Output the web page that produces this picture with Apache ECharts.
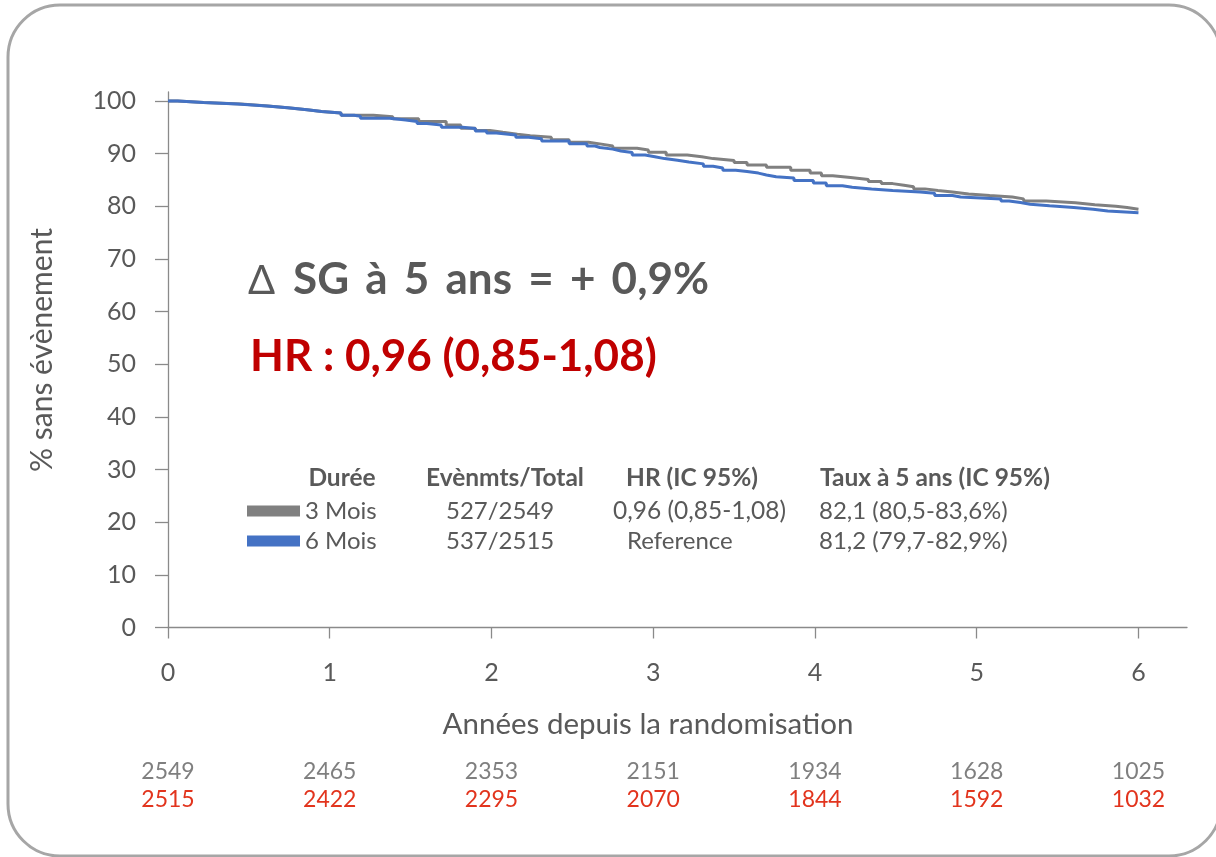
<!DOCTYPE html>
<html>
<head>
<meta charset="utf-8">
<script src="https://cdn.jsdelivr.net/npm/echarts@6/dist/echarts.min.js"></script>
<style>html,body{margin:0;padding:0;background:#fff;}#c{width:1216px;height:857px;}</style>
</head>
<body>
<div id="c"></div>
<script>
// Kaplan-Meier step points [years, % event-free]
var mois3 = [[0,100],[0.06,99.7],[0.22,99.4],[0.45,99.05],[0.62,98.7],[0.74,98.35],[0.86,98.0],[0.95,97.7],[1.07,97.3],[1.27,97.0],[1.39,96.6],[1.55,96.1],[1.72,95.45],[1.81,94.8],[1.90,94.4],[1.99,94.05],[2.07,93.7],[2.16,93.4],[2.24,93.1],[2.37,92.65],[2.48,92.15],[2.60,91.8],[2.68,91.45],[2.75,91.0],[2.90,90.7],[2.97,90.25],[3.08,89.75],[3.21,89.4],[3.30,89.05],[3.37,88.7],[3.50,88.3],[3.58,87.85],[3.70,87.4],[3.85,86.85],[3.97,86.3],[4.04,85.8],[4.11,85.45],[4.22,85.1],[4.33,84.7],[4.41,84.3],[4.48,84.0],[4.55,83.7],[4.61,83.3],[4.68,83.0],[4.76,82.7],[4.85,82.35],[4.95,82.05],[5.08,81.75],[5.22,81.4],[5.29,81.0],[5.43,80.65],[5.61,80.3],[5.73,80.0],[5.86,79.75],[5.93,79.45],[6.0,79.45]];
var mois6 = [[0,100],[0.06,99.7],[0.22,99.4],[0.43,99.05],[0.61,98.7],[0.74,98.35],[0.86,98.0],[0.95,97.7],[1.07,97.3],[1.15,97.1],[1.19,96.7],[1.37,96.4],[1.47,96.1],[1.54,95.7],[1.60,95.45],[1.69,95.0],[1.82,94.75],[1.90,94.3],[1.97,93.9],[2.03,93.55],[2.15,93.1],[2.23,92.8],[2.31,92.4],[2.48,91.85],[2.59,91.45],[2.64,91.15],[2.67,90.85],[2.75,90.5],[2.80,90.2],[2.87,89.75],[2.95,89.4],[3.01,89.05],[3.07,88.75],[3.15,88.4],[3.22,88.05],[3.31,87.6],[3.37,87.25],[3.43,86.85],[3.51,86.6],[3.58,86.3],[3.65,85.95],[3.70,85.6],[3.76,85.35],[3.87,84.9],[3.99,84.4],[4.07,83.9],[4.17,83.6],[4.23,83.3],[4.35,83.0],[4.48,82.7],[4.65,82.45],[4.74,82.05],[4.85,81.75],[4.90,81.4],[5.15,81.0],[5.20,80.7],[5.27,80.4],[5.33,80.1],[5.45,79.75],[5.60,79.45],[5.72,79.1],[5.81,78.75],[6.0,78.75]];
var xTicks = [0,1,2,3,4,5,6];
var yTicks = [0,10,20,30,40,50,60,70,80,90,100];
var atRisk3 = [2549,2465,2353,2151,1934,1628,1025];
var atRisk6 = [2515,2422,2295,2070,1844,1592,1032];
var seriesNames = ['3 Mois','6 Mois'];
var tableHeaders = ['Durée','Evènmts/Total','HR (IC 95%)','Taux à 5 ans (IC 95%)'];
var evTotal = ['527/2549','537/2515'];
var hrText = ['0,96 (0,85-1,08)','Reference'];
var taux5 = ['82,1 (80,5-83,6%)','81,2 (79,7-82,9%)'];
var deltaSym = '\u0394';
var deltaText = 'SG \u2009à \u20095 \u2009ans \u2009= \u2009+ \u20090,9%';
var hrBig = 'HR : 0,96 (0,85-1,08)';

var FONT = 'Lato';
var axisColor = '#8a8a8a';
var txt = '#595959';

var chart = echarts.init(document.getElementById('c'), null, {renderer:'canvas'});

function t(x, y, s, size, color, weight, align) {
  return {type:'text', x:x, y:y, style:{text:s, fontFamily:FONT, fontSize:size, fill:color, fontWeight:weight||'normal', align:align||'left', verticalAlign:'middle'}};
}

var graphics = [
  {type:'rect', shape:{x:8, y:5, width:1213, height:851, r:52}, style:{fill:'none', stroke:'#a6a6a6', lineWidth:3}, z:0},
  t(248, 281, deltaSym, 40, txt, 'normal'),
  t(293, 280, deltaText, 44, txt, 'bold'),
  t(250, 357, hrBig, 44, '#c00000', 'bold'),
  t(342, 478, tableHeaders[0], 24.5, txt, 'bold', 'center'),
  t(426, 478, tableHeaders[1], 24.5, txt, 'bold'),
  t(626, 478, tableHeaders[2], 24.5, txt, 'bold'),
  t(820, 478, tableHeaders[3], 24.5, txt, 'bold'),
  t(446, 511, evTotal[0], 24, txt),
  t(446, 541, evTotal[1], 24, txt),
  t(613, 511, hrText[0], 24.5, txt),
  t(627, 541, hrText[1], 24, txt),
  t(819, 511, taux5[0], 24, txt),
  t(819, 541, taux5[1], 24, txt),
  t(648, 724, 'Années depuis la randomisation', 29.5, txt, 'normal', 'center'),
  {type:'text', x:42, y:350, rotation:Math.PI/2, style:{text:'% sans évènement', fontFamily:FONT, fontSize:30, fill:txt, align:'center', verticalAlign:'middle'}}
];

var riskAxis = function(arr, color, offset) {
  return {type:'value', min:0, max:6.3, position:'bottom', offset:offset,
    axisLine:{show:false}, axisTick:{show:false}, splitLine:{show:false},
    axisLabel:{customValues:xTicks, margin:8, color:color, fontFamily:FONT, fontSize:23,
      formatter:function(v){ return String(arr[Math.round(v)]); }}};
};

chart.setOption({
  animation:false,
  backgroundColor:'#ffffff',
  grid:{left:168, right:29, top:92, bottom:229.5, containLabel:false},
  legend:{show:true, orient:'vertical', left:247, top:499, padding:0, icon:'rect', itemWidth:53, itemHeight:11, itemGap:6,
    data:seriesNames, textStyle:{fontFamily:FONT, fontSize:24, color:txt}},
  xAxis:[
    {type:'value', min:0, max:6.3, position:'bottom',
      axisLine:{lineStyle:{color:axisColor, width:1.3}},
      axisTick:{customValues:xTicks, length:11, lineStyle:{color:axisColor, width:1.3}},
      axisLabel:{customValues:xTicks, margin:33, color:txt, fontFamily:FONT, fontSize:25},
      splitLine:{show:false}},
    riskAxis(atRisk3, '#7f7f7f', 125),
    riskAxis(atRisk6, '#e2341d', 153)
  ],
  yAxis:{type:'value', min:0, max:101.7,
    axisLine:{show:true, lineStyle:{color:axisColor, width:1.3}},
    axisTick:{show:true, customValues:yTicks, length:13, lineStyle:{color:axisColor, width:1.3}},
    axisLabel:{customValues:yTicks, margin:32, color:txt, fontFamily:FONT, fontSize:25},
    splitLine:{show:false}},
  series:[
    {name:seriesNames[0], type:'line', step:'end', data:mois3, showSymbol:false, symbol:'none',
      itemStyle:{color:'#808080'}, lineStyle:{color:'#808080', width:3}, z:2},
    {name:seriesNames[1], type:'line', step:'end', data:mois6, showSymbol:false, symbol:'none',
      itemStyle:{color:'#4472c4'}, lineStyle:{color:'#4472c4', width:3}, z:3}
  ],
  graphic:graphics
});
</script>
</body>
</html>
